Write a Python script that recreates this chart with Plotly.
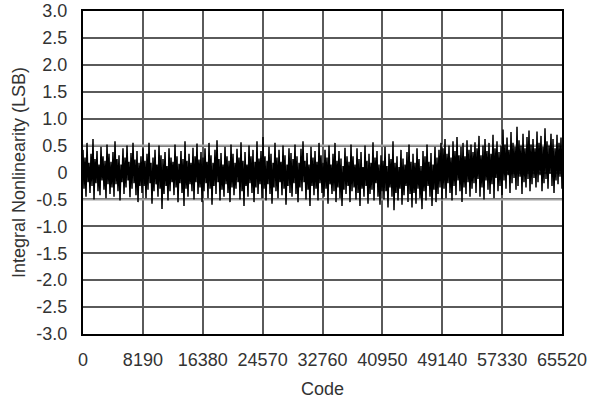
import plotly.graph_objects as go

# ---- data ----
code_max = 65520
x_ticks = [0, 8190, 16380, 24570, 32760, 40950, 49140, 57330, 65520]
x_tick_labels = ["0", "8190", "16380", "24570", "32760", "40950", "49140", "57330", "65520"]
y_ticks = [-3.0, -2.5, -2.0, -1.5, -1.0, -0.5, 0, 0.5, 1.0, 1.5, 2.0, 2.5, 3.0]
y_tick_labels = ["-3.0", "-2.5", "-2.0", "-1.5", "-1.0", "-0.5", "0", "0.5", "1.0", "1.5", "2.0", "2.5", "3.0"]
limit_lines = [0.5, -0.5]

# local maxima of the INL trace (left to right)
peaks = [
    0.42, 0.28, 0.55, 0.18, 0.35, 0.62, 0.25, 0.40, 0.15, 0.48, 0.30, 0.22, 0.52, 0.35, 0.20,
    0.38, 0.58, 0.25, 0.32, 0.15, 0.45, 0.28, 0.50, 0.20, 0.36, 0.55, 0.24, 0.40, 0.18, 0.30,
    0.45, 0.22, 0.35, 0.55, 0.18, 0.28, 0.42, 0.15, 0.50, 0.32, 0.25, 0.38, 0.12, 0.45, 0.28,
    0.20, 0.52, 0.30, 0.16, 0.40, 0.25, 0.58, 0.22, 0.35, 0.18, 0.46, 0.30, 0.54, 0.24, 0.38,
    0.28, 0.45, 0.20, 0.55, 0.32, 0.18, 0.42, 0.60, 0.25, 0.36, 0.15, 0.48, 0.30, 0.22, 0.52,
    0.35, 0.18, 0.44, 0.28, 0.56, 0.22, 0.38, 0.15, 0.50, 0.30, 0.42, 0.20, 0.58, 0.26, 0.40,
    0.66, 0.30, 0.22, 0.48, 0.35, 0.18, 0.55, 0.28, 0.42, 0.20, 0.50, 0.32, 0.15, 0.45, 0.36,
    0.25, 0.52, 0.30, 0.18, 0.44, 0.58, 0.22, 0.36, 0.15, 0.48, 0.28, 0.40, 0.20, 0.55, 0.32,
    0.18, 0.42, 0.28, 0.50, 0.15, 0.35, 0.55, 0.22, 0.40, 0.26, 0.12, 0.46, 0.30, 0.20, 0.52,
    0.30, 0.15, 0.45, 0.25, 0.38, 0.10, 0.50, 0.22, 0.35, 0.18, 0.56, 0.28, 0.40, 0.15, 0.32,
    0.22, 0.48, 0.12, 0.35, 0.25, 0.58, 0.18, 0.30, 0.10, 0.42, 0.26, 0.15, 0.38, 0.52, 0.20,
    0.35, 0.18, 0.45, 0.25, 0.12, 0.40, 0.30, 0.52, 0.20, 0.36, 0.15, 0.48, 0.28, 0.42, 0.55,
    0.45, 0.62, 0.35, 0.50, 0.28, 0.58, 0.40, 0.66, 0.32, 0.48, 0.55, 0.30, 0.60, 0.42, 0.52,
    0.38, 0.56, 0.45, 0.68, 0.32, 0.50, 0.62, 0.40, 0.55, 0.35, 0.70, 0.45, 0.58, 0.38, 0.50,
    0.80, 0.52, 0.65, 0.42, 0.75, 0.55, 0.48, 0.85, 0.60, 0.50, 0.72, 0.45, 0.66, 0.78, 0.52,
    0.62, 0.45, 0.76, 0.55, 0.68, 0.48, 0.82, 0.58, 0.50, 0.72, 0.62, 0.45, 0.70, 0.55, 0.65,
]
# local minima of the INL trace (left to right)
troughs = [
    -0.30, -0.45, -0.18, -0.38, -0.25, -0.50, -0.20, -0.35, -0.42, -0.15, -0.32, -0.48, -0.22, -0.40, -0.28,
    -0.45, -0.22, -0.35, -0.52, -0.18, -0.40, -0.28, -0.15, -0.46, -0.30, -0.20, -0.42, -0.55, -0.25, -0.38,
    -0.25, -0.48, -0.32, -0.20, -0.58, -0.35, -0.22, -0.45, -0.30, -0.68, -0.40, -0.25, -0.52, -0.35, -0.18,
    -0.42, -0.28, -0.55, -0.20, -0.38, -0.62, -0.30, -0.45, -0.22, -0.35, -0.50, -0.18, -0.40, -0.28, -0.55,
    -0.35, -0.20, -0.48, -0.30, -0.60, -0.25, -0.40, -0.18, -0.52, -0.32, -0.45, -0.22, -0.38, -0.55, -0.28,
    -0.42, -0.30, -0.18, -0.50, -0.35, -0.62, -0.25, -0.45, -0.20, -0.38, -0.55, -0.28, -0.40, -0.22, -0.48,
    -0.30, -0.52, -0.22, -0.40, -0.58, -0.28, -0.35, -0.48, -0.18, -0.42, -0.30, -0.60, -0.25, -0.38, -0.45,
    -0.20, -0.40, -0.55, -0.28, -0.35, -0.18, -0.50, -0.32, -0.62, -0.25, -0.42, -0.30, -0.52, -0.20, -0.38,
    -0.45, -0.30, -0.58, -0.22, -0.40, -0.35, -0.55, -0.28, -0.48, -0.62, -0.32, -0.40, -0.25, -0.55, -0.35,
    -0.28, -0.50, -0.38, -0.62, -0.30, -0.45, -0.25, -0.58, -0.40, -0.32, -0.52, -0.20, -0.45, -0.60, -0.35,
    -0.50, -0.35, -0.65, -0.28, -0.45, -0.70, -0.38, -0.52, -0.30, -0.60, -0.42, -0.25, -0.55, -0.40, -0.65,
    -0.38, -0.58, -0.30, -0.48, -0.68, -0.35, -0.52, -0.25, -0.45, -0.62, -0.32, -0.55, -0.40, -0.28, -0.50,
    -0.30, -0.48, -0.20, -0.38, -0.52, -0.25, -0.42, -0.15, -0.35, -0.55, -0.28, -0.40, -0.18, -0.45, -0.30,
    -0.20, -0.38, -0.12, -0.45, -0.28, -0.50, -0.15, -0.32, -0.40, -0.22, -0.48, -0.10, -0.35, -0.25, -0.42,
    -0.15, -0.30, -0.05, -0.38, -0.20, -0.10, -0.32, -0.25, -0.08, -0.40, -0.18, -0.28, -0.12, -0.35, -0.22,
    -0.10, -0.28, -0.18, -0.05, -0.35, -0.20, -0.12, -0.30, -0.02, -0.25, -0.38, -0.15, -0.22, -0.08, -0.30,
]

# interleave maxima and minima into one INL trace, evenly spread over the code range
inl = []
for p, t in zip(peaks, troughs):
    inl.append(p)
    inl.append(t)
n = len(inl)
codes = [round(i * code_max / (n - 1)) for i in range(n)]

font_family = "Liberation Sans, Arial, sans-serif"
text_color = "#333333"
fsize = 18

fig = go.Figure()

for lv in limit_lines:
    fig.add_trace(go.Scatter(
        x=[0, code_max], y=[lv, lv], mode="lines",
        line=dict(color="#a0a0a0", width=2), hoverinfo="skip", showlegend=False,
    ))

fig.add_trace(go.Scatter(
    x=codes, y=inl, mode="lines",
    line=dict(color="black", width=1.5), showlegend=False,
))

fig.update_layout(
    width=600, height=400,
    margin=dict(l=83, r=38, t=11, b=66, autoexpand=False),
    paper_bgcolor="white", plot_bgcolor="white",
    font=dict(family=font_family, size=fsize, color=text_color),
    showlegend=False,
)
fig.update_xaxes(
    range=[0, code_max], tickvals=x_ticks, ticktext=x_tick_labels,
    showgrid=True, gridcolor="#5a5a5a", gridwidth=1.5,
    showline=True, linecolor="black", linewidth=2, mirror=True,
    zeroline=False, ticks="", ticklen=0, ticklabelstandoff=8,
    ticklabeloverflow="allow", automargin=False,
    tickfont=dict(size=fsize, color=text_color),
    title=dict(text="Code", font=dict(size=fsize, color=text_color), standoff=14),
)
fig.update_yaxes(
    range=[-3.0, 3.0], tickvals=y_ticks, ticktext=y_tick_labels,
    showgrid=True, gridcolor="#5a5a5a", gridwidth=1.5,
    showline=True, linecolor="black", linewidth=2, mirror=True,
    zeroline=False, ticks="", ticklen=0, ticklabelstandoff=10,
    ticklabeloverflow="allow", automargin=False,
    tickfont=dict(size=fsize, color=text_color),
    title=dict(text="Integral Nonlinearity (LSB)", font=dict(size=fsize, color=text_color), standoff=6),
)

fig.write_html(
    "out.html",
    config={"displayModeBar": False},
    post_script="document.body.style.margin='0';",
)
